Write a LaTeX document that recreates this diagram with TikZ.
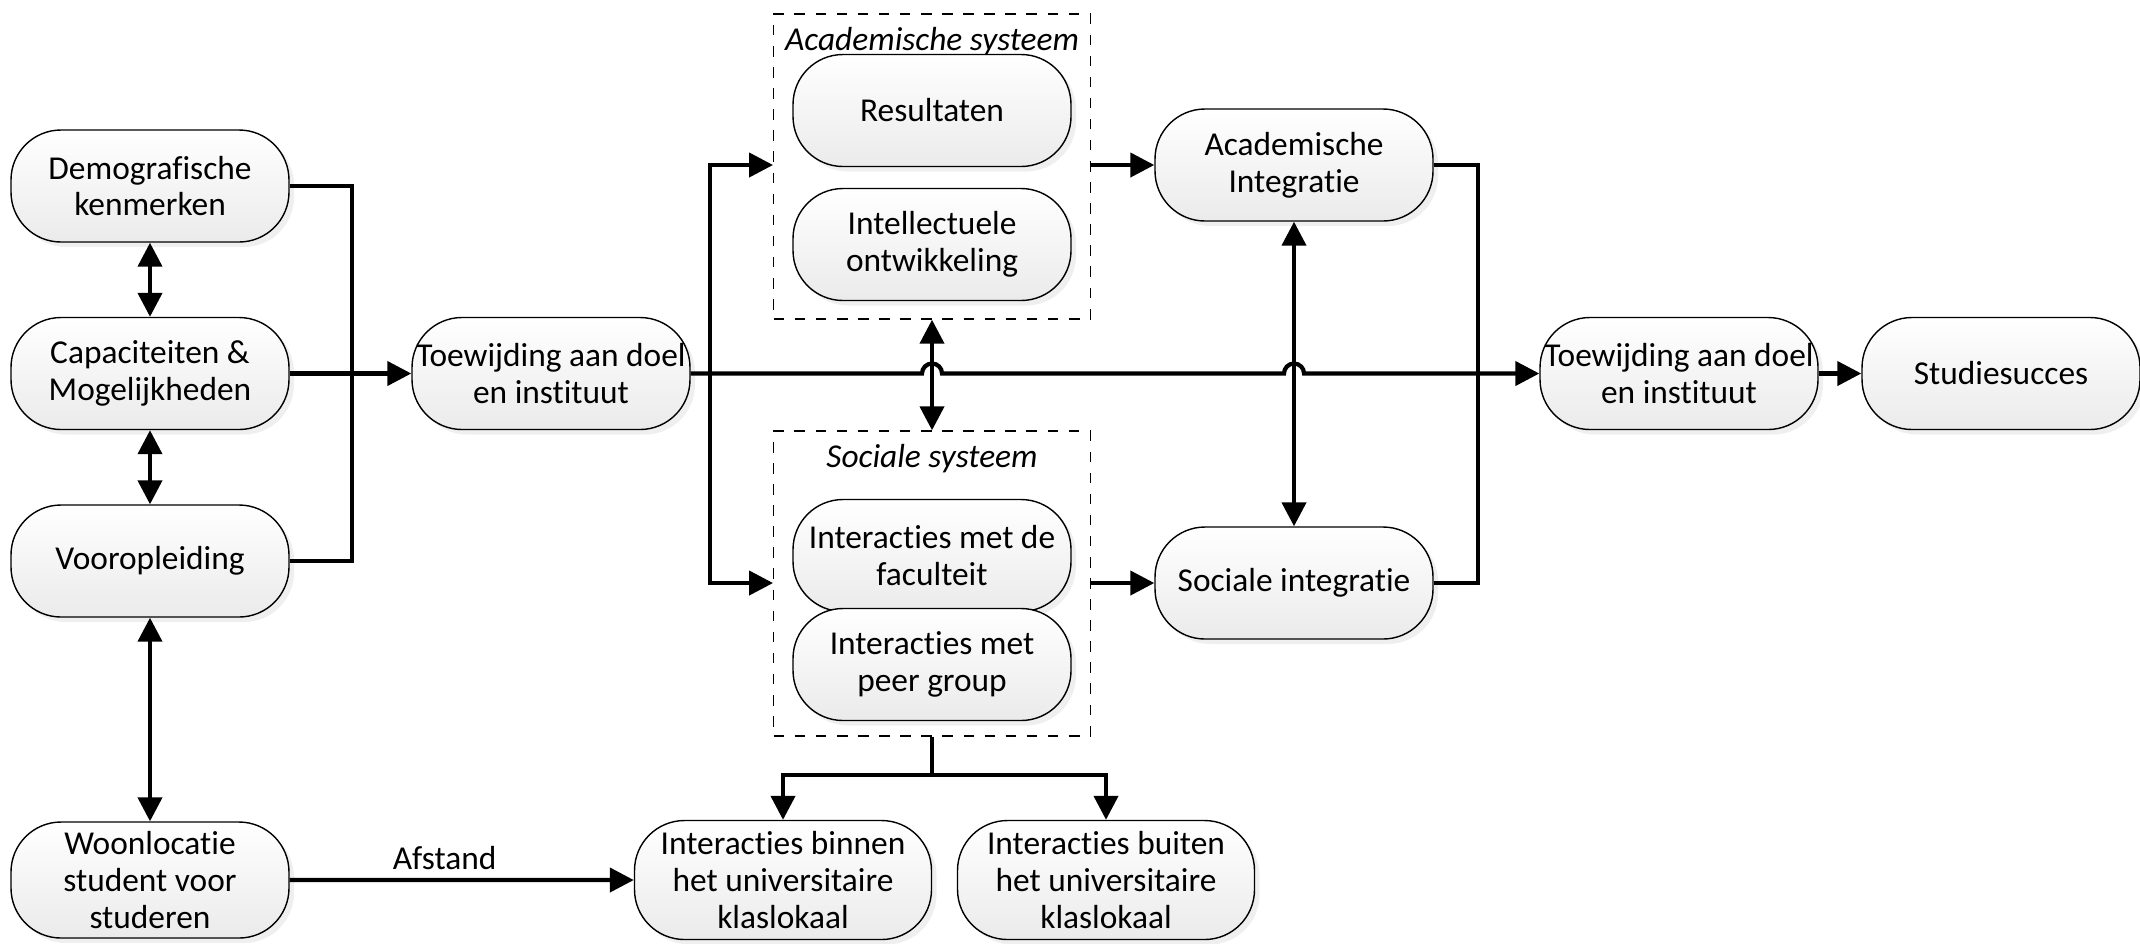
\documentclass[tikz,border=0pt]{standalone}
\usepackage{fontspec}
\setmainfont{Carlito}[Ligatures={RequiredOff,CommonOff,ContextualOff,RareOff}]
\usepackage{tikz}
\usetikzlibrary{arrows.meta,positioning,shadows}

\tikzset{
    blok/.style={draw, thin, rounded corners=0.5cm, top color=white, bottom color=gray!16,
        drop shadow={shadow xshift=0.05cm, shadow yshift=-0.05cm, fill=gray!25},
        minimum width=2.78cm, minimum height=1.12cm, align=center, inner sep=1pt,
        font=\fontsize{9.5}{10.5}\selectfont},
    systeem/.style={draw, thin, dashed, minimum width=3.165cm, minimum height=3.05cm},
    titel/.style={font=\fontsize{9.5}{10.5}\selectfont\itshape},
}

\begin{document}
\begin{tikzpicture}[>={Triangle[length=2.4mm,width=2.4mm]}, line width=1.2pt, node distance=1.875cm]
    \useasboundingbox (0,0) rectangle (21.40,-9.43);

    % Systemen (achtergrond)
    \node [systeem] (acad) at (9.32,-1.665) {};
    \node [systeem] (soc)  at (9.32,-5.835) {};
    \node [titel] (acadtitel) [below=0cm of acad.north] {Academische systeem};
    \node [titel] (soctitel)  [below=0cm of soc.north]  {Sociale systeem};

    % Nodes
    \node [blok] (dem)                                          at (1.50,-1.86)  {Demografische\\kenmerken};
    \node [blok] (cap)   [below of=dem]                                          {Capaciteiten \&\\Mogelijkheden};
    \node [blok] (voor)  [below of=cap]                                          {Vooropleiding};
    \node [blok, minimum height=1.16cm] (woon) [below of=voor, node distance=3.19cm] {Woonlocatie\\student voor\\studeren};
    \node [blok] (toe1)  [right of=cap, node distance=4.01cm]                    {Toewijding aan doel\\en instituut};
    \node [blok] (res)                                          at (9.32,-1.105) {Resultaten};
    \node [blok] (intel) [below of=res, node distance=1.34cm]                    {Intellectuele\\ontwikkeling};
    \node [blok] (fac)                                          at (9.32,-5.555) {Interacties met de\\faculteit};
    \node [blok] (peer)  [below of=fac, node distance=1.09cm]                    {Interacties met\\peer group};
    \node [blok] (ai)                                           at (12.94,-1.65) {Academische\\Integratie};
    \node [blok] (si)                                           at (12.94,-5.83) {Sociale integratie};
    \node [blok] (toe2)                                         at (16.79,-3.735) {Toewijding aan doel\\en instituut};
    \node [blok] (succ)  [right of=toe2, node distance=3.22cm]                   {Studiesucces};
    \node [blok, minimum width=2.97cm, minimum height=1.19cm] (binnen) at (7.83,-8.80) {Interacties binnen\\het universitaire\\klaslokaal};
    \node [blok, minimum width=2.97cm, minimum height=1.19cm] (buiten) [right of=binnen, node distance=3.23cm] {Interacties buiten\\het universitaire\\klaslokaal};

    % Knooppunten
    \coordinate (busL) at (3.52,-3.735);
    \coordinate (busM) at (7.10,-3.735);
    \coordinate (busR) at (14.78,-3.735);
    \coordinate (hop1) at (9.22,-3.735);
    \coordinate (hop2) at (12.84,-3.735);
    \coordinate (split) at (9.32,-7.75);

    % Paths
    \draw [<->] (dem) -- (cap);
    \draw [<->] (cap) -- (voor);
    \draw [<->] (voor) -- (woon);
    \draw (dem.east) -| (busL) |- (voor.east);
    \draw [->] (cap.east) -- (toe1.west);
    \draw [->] (woon.east) -- node [above=-1pt, pos=0.45, font=\fontsize{9.5}{10.5}\selectfont] {Afstand} (binnen.west);

    \draw [->] (busM) |- (ai.west -| acad.west);
    \draw [->] (busM) |- (si.west -| soc.west);
    \draw [->] (toe1.east) -- (hop1) arc [start angle=180, end angle=0, radius=0.1cm]
        -- (hop2) arc [start angle=180, end angle=0, radius=0.1cm] -- (toe2.west);

    \draw [->] (ai.west -| acad.east) -- (ai.west);
    \draw [->] (si.west -| soc.east) -- (si.west);
    \draw [<->] (acad) -- (soc);
    \draw [<->] (ai) -- (si);
    \draw (ai.east) -| (busR) |- (si.east);
    \draw [->] (toe2.east) -- (succ.west);

    \draw (soc.south) -- (split);
    \draw [->] (split) -| (binnen.north);
    \draw [->] (split) -| (buiten.north);
\end{tikzpicture}
\end{document}
